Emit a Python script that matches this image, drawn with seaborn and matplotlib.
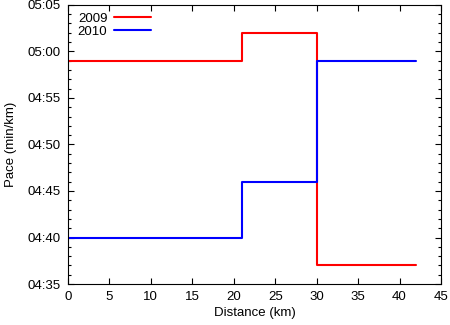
import pandas as pd
import matplotlib.pyplot as plt
import matplotlib.ticker as mticker
import seaborn as sns

# Split boundaries (km) and pace in seconds per km
distance = [0, 21, 30, 42]
pace_2009 = [299, 302, 277, 277]
pace_2010 = [280, 286, 299, 299]
years = ["2009", "2010"]
colors = ["#ff0000", "#0000ff"]

df = pd.DataFrame({
    "distance": distance * 2,
    "pace": pace_2009 + pace_2010,
    "year": [years[0]] * 4 + [years[1]] * 4,
})

sns.set_style("ticks")
plt.rcParams["font.family"] = ["Liberation Sans", "DejaVu Sans"]
plt.rcParams["text.color"] = "black"
plt.rcParams["axes.labelcolor"] = "black"

fs = 9.5
fig = plt.figure(figsize=(4.5, 3.25), dpi=100)
ax = fig.add_axes([0.151, 0.126, 0.829, 0.859])

sns.lineplot(data=df, x="distance", y="pace", hue="year", palette=colors,
             drawstyle="steps-post", linewidth=1.5, ax=ax)

ax.set_xlim(0, 45)
ax.set_ylim(275, 305)
ax.xaxis.set_major_locator(mticker.MultipleLocator(5))
ax.xaxis.set_minor_locator(mticker.NullLocator())
ax.yaxis.set_major_locator(mticker.MultipleLocator(5))
ax.yaxis.set_minor_locator(mticker.MultipleLocator(1))
ax.yaxis.set_major_formatter(
    mticker.FuncFormatter(lambda v, p: "%02d:%02d" % (int(v) // 60, int(v) % 60)))
ax.tick_params(which="both", direction="in", top=True, right=True, colors="black",
               labelsize=fs, labelcolor="black")
ax.tick_params(which="major", length=4, width=0.8, pad=5)
ax.tick_params(which="minor", length=2, width=0.8)
for s in ax.spines.values():
    s.set_linewidth(0.8)
    s.set_color("black")

ax.set_xlabel("Distance (km)", fontsize=fs, labelpad=3)
ax.set_ylabel("Pace (min/km)", fontsize=fs, labelpad=8)

leg = ax.legend(loc="upper left", frameon=False, markerfirst=False, handlelength=2.8,
                borderaxespad=0.2, labelspacing=0.05, fontsize=fs, handletextpad=0.5,
                bbox_to_anchor=(0.005, 1.0))
for t in leg.get_texts():
    t.set_color("black")

fig.savefig("out.png", dpi=100)
